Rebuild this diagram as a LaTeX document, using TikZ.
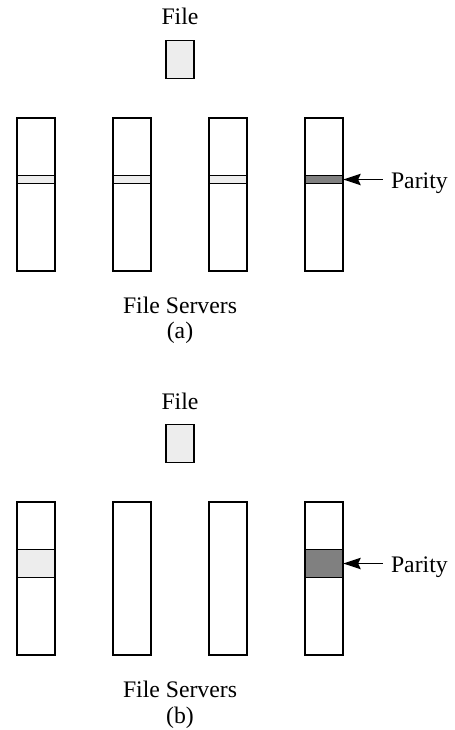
\documentclass[tikz,border=0pt]{standalone}
\usepackage{fontspec}
\setmainfont{Liberation Serif}
\usetikzlibrary{arrows.meta}
\begin{document}
\begin{tikzpicture}[x=0.02cm,y=-0.02cm]
\tikzstyle{every node}+=[inner sep=0pt,font=\fontsize{13.5}{16}\selectfont]
\tikzstyle{srv}=[draw=black,line width=1.2pt,minimum width=0.755cm,minimum height=3.06cm]
\tikzstyle{fbox}=[draw=black,line width=0.6pt,fill=black!7,minimum width=0.56cm,minimum height=0.754cm]
\tikzstyle{blk}=[draw=black,line width=0.6pt,minimum width=0.755cm]
\tikzstyle{lbl}=[anchor=base]
\useasboundingbox (0,0) rectangle (455,730);
% (a)
\node [lbl] (fileA) at (180,25) {File};
\node [fbox] (boxA) at (180,59.8) {};
\node [blk,fill=black!7,minimum height=0.172cm] (blkA1) at (35.8,179.5) {};
\node [blk,fill=black!7,minimum height=0.172cm] (blkA2) at (131.8,179.5) {};
\node [blk,fill=black!7,minimum height=0.172cm] (blkA3) at (227.8,179.5) {};
\node [blk,fill=black!50,minimum height=0.172cm] (blkA4) at (323.8,179.5) {};
\node [srv] (srvA1) at (35.8,194.2) {};
\node [srv] (srvA2) at (131.8,194.2) {};
\node [srv] (srvA3) at (227.8,194.2) {};
\node [srv] (srvA4) at (323.8,194.2) {};
\node [anchor=base west] (parA) at (390.7,188.3) {Parity};
\draw [-{Stealth[length=10pt,width=6.5pt,inset=1.5pt]},line width=0.6pt] (parA.west |- blkA4.east) ++(-8,0) -- (blkA4.east);
\node [lbl] (srvlblA) at (180,313.3) {File Servers};
\node [lbl] (capA) at (180,338.3) {(a)};
% (b)
\node [lbl] (fileB) at (180,409) {File};
\node [fbox] (boxB) at (180,443.8) {};
\node [blk,fill=black!7,minimum height=0.56cm] (blkB1) at (35.8,563.5) {};
\node [blk,fill=black!50,minimum height=0.56cm] (blkB4) at (323.8,563.5) {};
\node [srv] (srvB1) at (35.8,578.2) {};
\node [srv] (srvB2) at (131.8,578.2) {};
\node [srv] (srvB3) at (227.8,578.2) {};
\node [srv] (srvB4) at (323.8,578.2) {};
\node [anchor=base west] (parB) at (390.7,572.3) {Parity};
\draw [-{Stealth[length=10pt,width=6.5pt,inset=1.5pt]},line width=0.6pt] (parB.west |- blkB4.east) ++(-8,0) -- (blkB4.east);
\node [lbl] (srvlblB) at (180,697.7) {File Servers};
\node [lbl] (capB) at (180,723.3) {(b)};
\end{tikzpicture}
\end{document}
